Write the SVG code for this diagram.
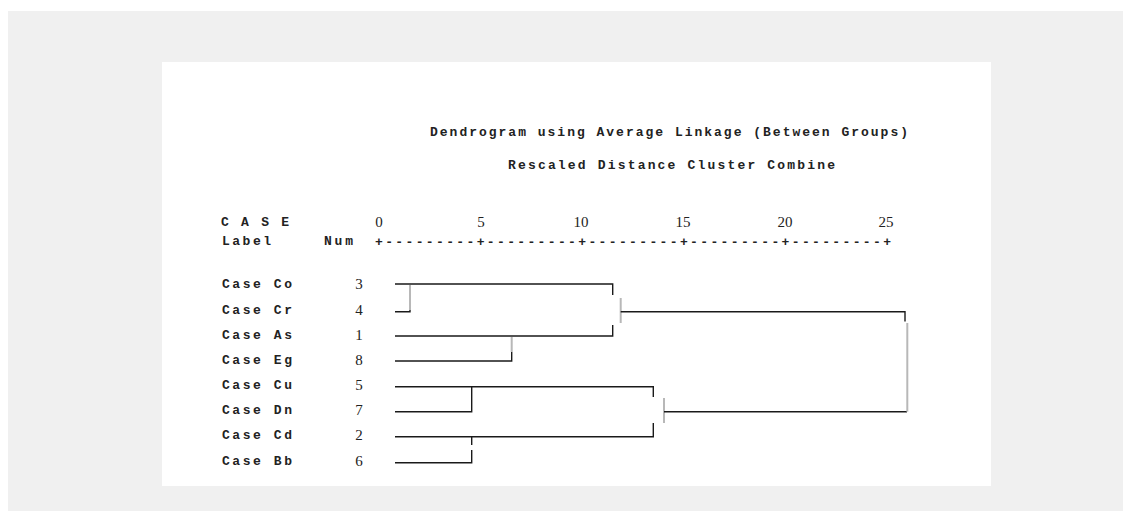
<svg xmlns="http://www.w3.org/2000/svg" width="1131" height="522" viewBox="0 0 1131 522">
<style>
.mono{font-family:"Liberation Mono","DejaVu Sans Mono",monospace;font-weight:bold;font-size:13px;fill:#222}
.num{font-family:"Liberation Serif","Times New Roman",serif;font-size:15px;fill:#222}
.ln{stroke:#1a1a1a;stroke-width:1.4;fill:none}
.gv{stroke:#b8b8b8;stroke-width:2;fill:none}
</style>
<rect x="0" y="0" width="1131" height="522" fill="#ffffff"/>
<rect x="8" y="11" width="1115" height="500" fill="#f0f0f0"/>
<rect x="162" y="62" width="829" height="424" fill="#ffffff"/>

<g id="title">
<text class="mono" x="430" y="136" textLength="478" lengthAdjust="spacing">Dendrogram using Average Linkage (Between Groups)</text>
<text class="mono" x="508" y="169" textLength="327" lengthAdjust="spacing">Rescaled Distance Cluster Combine</text>
</g>

<g id="axis">
<text class="mono" x="221" y="226" textLength="68" lengthAdjust="spacing">C A S E</text>
<text class="mono" x="222" y="245" textLength="49" lengthAdjust="spacing">Label</text>
<text class="mono" x="324" y="245" textLength="29" lengthAdjust="spacing">Num</text>
<text class="num" x="379" y="227" text-anchor="middle">0</text>
<text class="num" x="481" y="227" text-anchor="middle">5</text>
<text class="num" x="581" y="227" text-anchor="middle">10</text>
<text class="num" x="683" y="227" text-anchor="middle">15</text>
<text class="num" x="785" y="227" text-anchor="middle">20</text>
<text class="num" x="886" y="227" text-anchor="middle">25</text>
<text class="mono" x="375" y="246" textLength="516" lengthAdjust="spacing">+---------+---------+---------+---------+---------+</text>
</g>

<g id="case-co"><text class="mono" x="222" y="288" textLength="70" lengthAdjust="spacing">Case Co</text><text class="num" x="359" y="289" text-anchor="middle">3</text></g>
<g id="case-cr"><text class="mono" x="222" y="314" textLength="70" lengthAdjust="spacing">Case Cr</text><text class="num" x="359" y="315" text-anchor="middle">4</text></g>
<g id="case-as"><text class="mono" x="222" y="339" textLength="70" lengthAdjust="spacing">Case As</text><text class="num" x="359" y="340" text-anchor="middle">1</text></g>
<g id="case-eg"><text class="mono" x="222" y="364" textLength="70" lengthAdjust="spacing">Case Eg</text><text class="num" x="359" y="365" text-anchor="middle">8</text></g>
<g id="case-cu"><text class="mono" x="222" y="389" textLength="70" lengthAdjust="spacing">Case Cu</text><text class="num" x="359" y="390" text-anchor="middle">5</text></g>
<g id="case-dn"><text class="mono" x="222" y="414" textLength="70" lengthAdjust="spacing">Case Dn</text><text class="num" x="359" y="415" text-anchor="middle">7</text></g>
<g id="case-cd"><text class="mono" x="222" y="439" textLength="70" lengthAdjust="spacing">Case Cd</text><text class="num" x="359" y="440" text-anchor="middle">2</text></g>
<g id="case-bb"><text class="mono" x="222" y="465" textLength="70" lengthAdjust="spacing">Case Bb</text><text class="num" x="359" y="466" text-anchor="middle">6</text></g>

<g id="connectors">
<path class="ln" d="M395 284H612.7V295"/>
<path class="ln" d="M395 311.7H410V302"/>
<path class="gv" d="M410 285V310"/>
<path class="ln" d="M395 336H612.7V325"/>
<path class="ln" d="M395 361H511.7V352"/>
<path class="gv" d="M511.7 337V352"/>
<path class="gv" d="M620.7 298V323"/>
<path class="ln" d="M620.7 311.7H905V321.5"/>
<path class="ln" d="M395 386.7H653.3V397"/>
<path class="ln" d="M395 411.7H471.7V386.7"/>
<path class="ln" d="M395 436.7H653.3V423"/>
<path class="ln" d="M395 462.7H471.7V450"/>
<path class="ln" d="M471.7 436.7V445"/>
<path class="gv" d="M664 398V423"/>
<path class="ln" d="M664 411.7H907"/>
<path class="gv" d="M907.3 323V411.7"/>
</g>
</svg>
